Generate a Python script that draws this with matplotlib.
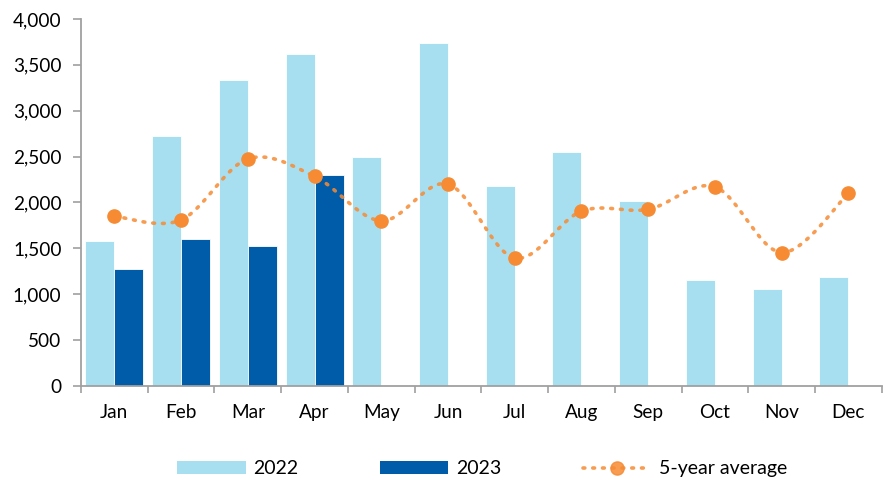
import numpy as np
import matplotlib
matplotlib.use("Agg")
from matplotlib import pyplot as plt
from matplotlib.lines import Line2D
from matplotlib.patches import Patch

months = ["Jan", "Feb", "Mar", "Apr", "May", "Jun", "Jul", "Aug", "Sep", "Oct", "Nov", "Dec"]
vals_2022 = [1575, 2720, 3335, 3615, 2495, 3740, 2180, 2545, 2020, 1150, 1060, 1185]
vals_2023 = [1275, 1600, 1530, 2300]
avg_5yr = [1850, 1810, 2475, 2285, 1800, 2200, 1395, 1905, 1925, 2170, 1455, 2100]

c_light = "#A8DFF0"
c_dark = "#005BA9"
c_orange = "#F68B33"

plt.rcParams["font.family"] = ["Lato", "DejaVu Sans"]


def smooth(xs, ys, n=30):
    # bezier smoothing like the spreadsheet "smoothed line" option
    p = np.column_stack([xs, ys]).astype(float)
    p = np.vstack([p[0], p, p[-1]])
    out = []
    t = np.linspace(0, 1, n)[:, None]
    for i in range(1, len(p) - 2):
        p0, p3 = p[i], p[i + 1]
        c1 = p0 + (p[i + 1] - p[i - 1]) / 6
        c2 = p3 - (p[i + 2] - p[i]) / 6
        seg = (1 - t) ** 3 * p0 + 3 * (1 - t) ** 2 * t * c1 + 3 * (1 - t) * t ** 2 * c2 + t ** 3 * p3
        out.append(seg if i == 1 else seg[1:])
    out = np.vstack(out)
    return out[:, 0], out[:, 1]


fig = plt.figure(figsize=(8.88, 4.83), dpi=100)
ax = fig.add_axes([0.0912, 0.2008, 0.9018, 0.7599])

x = np.arange(len(months))
w = 0.435
ax.bar(x - w / 2, vals_2022, width=w, color=c_light, edgecolor="white", linewidth=0.6, zorder=2)
ax.bar(x[:len(vals_2023)] + w / 2, vals_2023, width=w, color=c_dark, edgecolor="white", linewidth=0.6, zorder=2)

sx, sy = smooth(x, avg_5yr)
ax.plot(sx, sy, color=c_orange, alpha=0.85, linewidth=2.6, linestyle=(0, (0.5, 2.2)),
        dash_capstyle="round", zorder=3)
ax.plot(x, avg_5yr, "o", color=c_orange, markersize=9.5, zorder=4)

ax.set_xlim(-0.5, 11.5)
ax.set_ylim(0, 4000)
ax.set_yticks(np.arange(0, 4001, 500))
ax.set_yticklabels([f"{v:,}" for v in range(0, 4001, 500)])
ax.set_xticks(x)
ax.set_xticklabels(months)
ax.set_xticks(np.arange(-0.5, 12, 1), minor=True)

for s in ["top", "right"]:
    ax.spines[s].set_visible(False)
for s in ["left", "bottom"]:
    ax.spines[s].set_color("#A0A0A0")
    ax.spines[s].set_linewidth(1.3)

ax.tick_params(axis="y", length=6, width=1.2, color="#A0A0A0", labelsize=13.7, pad=8)
ax.tick_params(axis="x", which="major", length=0, labelsize=13.7, pad=13)
ax.tick_params(axis="x", which="minor", length=5, width=1.2, color="#A0A0A0")

handles = [
    Patch(facecolor=c_light, edgecolor="none"),
    Patch(facecolor=c_dark, edgecolor="none"),
    Line2D([0], [0], color=c_orange, alpha=0.85, linewidth=2.6, linestyle=(0, (0.5, 2.2)),
           dash_capstyle="round", marker="o", markersize=9.5, markerfacecolor=c_orange,
           markeredgecolor=c_orange),
]
fig.legend(handles, ["2022", "2023", "5-year average"], loc="center", bbox_to_anchor=(0.543, 0.029),
           ncol=3, frameon=False, fontsize=14, handlelength=3.5, handleheight=0.6,
           columnspacing=4.2, handletextpad=0.4)

fig.savefig("out.png", dpi=100)
